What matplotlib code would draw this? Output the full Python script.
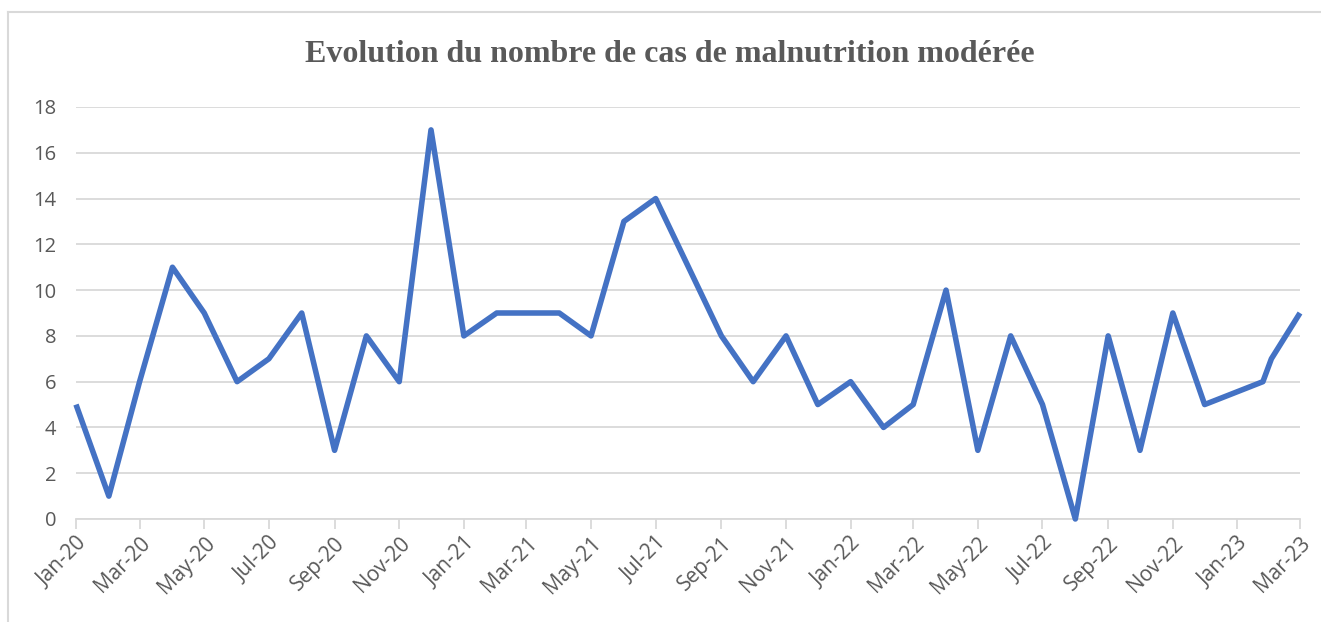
import pandas as pd
import matplotlib
matplotlib.use("Agg")
import matplotlib.pyplot as plt
import matplotlib.dates as mdates
from matplotlib.lines import Line2D

# données
dates = (list(pd.date_range("2020-01-01", "2022-12-01", freq="MS"))
         + [pd.Timestamp("2023-01-25"), pd.Timestamp("2023-02-02"), pd.Timestamp("2023-03-01")])
cas = [5, 1, 6, 11, 9, 6, 7, 9, 3, 8, 6, 17,
       8, 9, 9, 9, 8, 13, 14, 11, 8, 6, 8, 5,
       6, 4, 5, 10, 3, 8, 5, 0, 8, 3, 9, 5,
       6, 7, 9]
titre = "Evolution du nombre de cas de malnutrition modérée"

gris = "#595959"
grille = "#d9d9d9"

fig = plt.figure(figsize=(13.21, 6.22), dpi=100)
ax = fig.add_axes([76 / 1321, 103 / 622, 1224 / 1321, 412 / 622])

ax.plot(dates, cas, color="#4472C4", linewidth=4, solid_joinstyle="round",
        solid_capstyle="butt", clip_on=False, zorder=3)

ax.set_xlim(pd.Timestamp("2020-01-01"), pd.Timestamp("2023-03-01"))
ax.set_ylim(0, 18)
ax.set_yticks(range(0, 19, 2))
ax.xaxis.set_major_locator(mdates.MonthLocator(bymonth=[1, 3, 5, 7, 9, 11]))
ax.xaxis.set_major_formatter(mdates.DateFormatter("%b-%y"))

ax.grid(axis="y", color=grille, linewidth=1.3)
ax.set_axisbelow(True)
for s in ["top", "right", "left"]:
    ax.spines[s].set_visible(False)
ax.spines["bottom"].set_color(grille)
ax.spines["bottom"].set_linewidth(1.3)

ax.tick_params(axis="y", length=0, pad=14, labelsize=14.5, labelcolor=gris)
ax.tick_params(axis="x", length=7, width=1.3, color=grille, pad=3,
               labelsize=15, labelcolor=gris)
for lab in ax.get_xticklabels():
    lab.set_rotation(45)
    lab.set_ha("right")
    lab.set_va("top")
    lab.set_rotation_mode("anchor")
for lab in ax.get_xticklabels() + ax.get_yticklabels():
    lab.set_family("Open Sans")

fig.text(670 / 1321, 1 - 55 / 622, titre, ha="center", va="center",
         fontsize=23, fontweight="bold", color=gris, family="Liberation Serif")

# cadre du graphique
fig.add_artist(Line2D([8 / 1321, 8 / 1321], [0, 1 - 12 / 622], color=grille, linewidth=1.5))
fig.add_artist(Line2D([8 / 1321, 1], [1 - 12 / 622, 1 - 12 / 622], color=grille, linewidth=1.5))

fig.savefig("out.png", dpi=100, facecolor="white")
